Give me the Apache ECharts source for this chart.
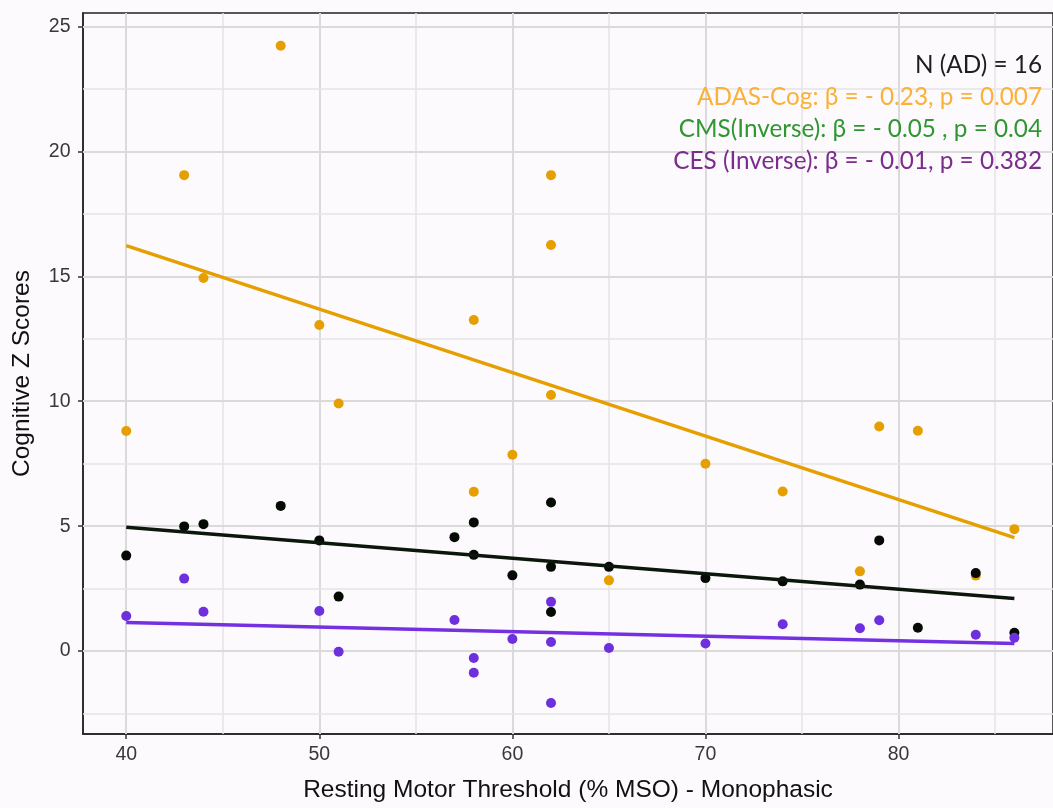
<!DOCTYPE html>
<html>
<head>
<meta charset="utf-8">
<script src="https://cdn.jsdelivr.net/npm/echarts@6/dist/echarts.min.js"></script>
<style>
  html, body { margin: 0; padding: 0; background: #fdfafd; }
  #main { width: 1053px; height: 808px; }
</style>
</head>
<body>
<div id="main"></div>
<script>
// ADAS-Cog (orange)
var adasX = [40, 43, 44, 48, 50, 51, 58, 58, 60, 62, 62, 62, 65, 70, 74, 78, 79, 81, 84, 86];
var adasY = [8.81, 19.05, 14.93, 24.23, 13.05, 9.91, 13.25, 6.38, 7.86, 19.05, 16.25, 10.25, 2.83, 7.5, 6.39, 3.19, 8.99, 8.82, 3.02, 4.88];
// CMS inverse (black)
var cmsX = [40, 43, 44, 48, 50, 51, 57, 58, 58, 60, 62, 62, 62, 65, 70, 74, 78, 79, 81, 84, 86];
var cmsY = [3.82, 4.99, 5.08, 5.81, 4.43, 2.18, 4.56, 5.15, 3.85, 3.03, 5.95, 3.37, 1.56, 3.37, 2.92, 2.79, 2.66, 4.43, 0.93, 3.12, 0.73];
// CES inverse (purple)
var cesX = [40, 43, 44, 50, 51, 57, 58, 58, 60, 62, 62, 62, 65, 70, 74, 78, 79, 84, 86];
var cesY = [1.40, 2.90, 1.57, 1.60, -0.03, 1.24, -0.28, -0.87, 0.48, 1.97, 0.36, -2.08, 0.12, 0.30, 1.07, 0.91, 1.23, 0.65, 0.53];
// fitted lines, ends at x = 40 and x = 86
var fitX = [40, 86];
var adasFit = [16.23, 4.54];
var cmsFit = [4.96, 2.10];
var cesFit = [1.14, 0.30];

var xTicks = [40, 50, 60, 70, 80];
var yTicks = [0, 5, 10, 15, 20, 25];
var xMinor = [45, 55, 65, 75, 85];
var yMinor = [-2.5, 2.5, 7.5, 12.5, 17.5, 22.5];

var notes = [
    ['N (AD) = 16', '#1e1e1e'],
    ['ADAS-Cog: β = - 0.23, p = 0.007', '#f9b13a'],
    ['CMS(Inverse): β = - 0.05 , p = 0.04', '#2f9630'],
    ['CES (Inverse): β = - 0.01, p = 0.382', '#7a2d8c']
];

function pairs(xs, ys) {
    return xs.map(function (x, i) { return [x, ys[i]]; });
}

var gridLines = [];
xTicks.forEach(function (v) { gridLines.push({ xAxis: v, lineStyle: { color: '#dadada', width: 2, type: 'solid' } }); });
xMinor.forEach(function (v) { gridLines.push({ xAxis: v, lineStyle: { color: '#e6e3e6', width: 1.5, type: 'solid' } }); });
yTicks.forEach(function (v) { gridLines.push({ yAxis: v, lineStyle: { color: '#dadada', width: 2, type: 'solid' } }); });
yMinor.forEach(function (v) { gridLines.push({ yAxis: v, lineStyle: { color: '#e6e3e6', width: 1.5, type: 'solid' } }); });

var chart = echarts.init(document.getElementById('main'));
var font = '"Liberation Sans", Arial, sans-serif';

option = {
    backgroundColor: '#fdfafd',
    animation: false,
    grid: {
        left: 83,
        right: -2,
        top: 13,
        bottom: 65,
        show: true,
        borderColor: '#222',
        borderWidth: 1.5,
        backgroundColor: 'transparent'
    },
    xAxis: {
        type: 'value',
        min: 37.76,
        max: 88,
        name: 'Resting Motor Threshold (% MSO) - Monophasic',
        nameLocation: 'middle',
        nameGap: 44,
        nameTextStyle: { fontFamily: font, fontSize: 24.5, color: '#111' },
        axisLine: { show: true, onZero: false, lineStyle: { color: '#222', width: 1.5 } },
        axisTick: { show: true, length: 5, customValues: xTicks, lineStyle: { color: '#333', width: 1.5 } },
        axisLabel: { customValues: xTicks, fontFamily: font, fontSize: 19.5, color: '#383838', margin: 11 },
        splitLine: { show: false }
    },
    yAxis: {
        type: 'value',
        min: -3.32,
        max: 25.54,
        name: 'Cognitive Z Scores',
        nameLocation: 'middle',
        nameGap: 48,
        nameTextStyle: { fontFamily: font, fontSize: 24.5, color: '#111' },
        axisLine: { show: true, onZero: false, lineStyle: { color: '#222', width: 1.5 } },
        axisTick: { show: true, length: 5, customValues: yTicks, lineStyle: { color: '#333', width: 1.5 } },
        axisLabel: { customValues: yTicks, fontFamily: font, fontSize: 19.5, color: '#383838', margin: 12.5 },
        splitLine: { show: false }
    },
    series: [
        {
            type: 'scatter',
            data: [],
            z: 0,
            silent: true,
            markLine: { silent: true, z: 1, symbol: 'none', animation: false, label: { show: false }, data: gridLines }
        },
        { name: 'ADAS-Cog', type: 'scatter', symbolSize: 10, data: pairs(adasX, adasY), itemStyle: { color: '#e69f00', opacity: 1 }, z: 3 },
        { name: 'CMS', type: 'scatter', symbolSize: 10, data: pairs(cmsX, cmsY), itemStyle: { color: '#050a05', opacity: 1 }, z: 4 },
        { name: 'CES', type: 'scatter', symbolSize: 10, data: pairs(cesX, cesY), itemStyle: { color: '#6d30dc', opacity: 1 }, z: 5 },
        { type: 'line', data: pairs(fitX, adasFit), symbol: 'none', lineStyle: { color: '#e69f00', width: 3.5 }, z: 6 },
        { type: 'line', data: pairs(fitX, cmsFit), symbol: 'none', lineStyle: { color: '#0b170b', width: 3.5 }, z: 6 },
        { type: 'line', data: pairs(fitX, cesFit), symbol: 'none', lineStyle: { color: '#7530e2', width: 3.5 }, z: 6 }
    ],
    graphic: notes.map(function (n, i) {
        return {
            type: 'text',
            right: 11,
            top: 53 + i * 32,
            z: 10,
            style: { text: n[0], fill: n[1], font: '24.3px Lato, "Open Sans", sans-serif' }
        };
    })
};
chart.setOption(option);
</script>
</body>
</html>
